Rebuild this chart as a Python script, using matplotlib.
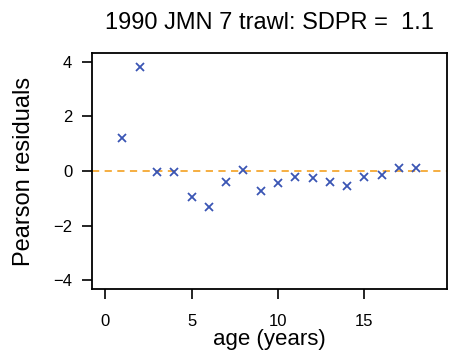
import numpy as np
import matplotlib.pyplot as plt

plt.rcParams['font.family'] = ['Liberation Sans', 'DejaVu Sans']

age = np.arange(1, 19)
resid = [1.19, 3.82, -0.04, -0.05, -0.95, -1.32, -0.40, 0.03, -0.73,
         -0.43, -0.22, -0.26, -0.40, -0.55, -0.22, -0.16, 0.12, 0.12]
xticks = [0, 5, 10, 15]
yticks = [-4, -2, 0, 2, 4]

fig = plt.figure(figsize=(4.5, 3.58), dpi=100)
ax = fig.add_axes([0.2044, 0.1927, 0.7883, 0.6593])

ax.axhline(0, color='#f5a833', linestyle=(0, (4, 3)), linewidth=1.3, zorder=1)
ax.plot(age, resid, linestyle='none', marker='x', color='#3a55b4',
        markersize=6, markeredgewidth=1.3, zorder=2)

ax.set_xlim(-0.76, 19.76)
ax.set_ylim(-4.32, 4.32)
ax.set_xticks(xticks)
ax.set_yticks(yticks)
ax.set_yticklabels(['\u22124', '\u22122', '0', '2', '4'])
ax.tick_params(direction='out', length=7.2, width=1.2, labelsize=12)
ax.tick_params(axis='x', pad=10.5)
ax.tick_params(axis='y', pad=7)
for s in ax.spines.values():
    s.set_linewidth(1.3)

ax.set_xlabel('age (years)', fontsize=16)
ax.xaxis.set_label_coords(0.5, -0.17)
ax.set_ylabel('Pearson residuals', fontsize=17)
ax.yaxis.set_label_coords(-0.16, 0.5)
ax.set_title('1990 JMN 7 trawl: SDPR =  1.1', fontsize=17, pad=17)

fig.savefig('out.png', dpi=100)
